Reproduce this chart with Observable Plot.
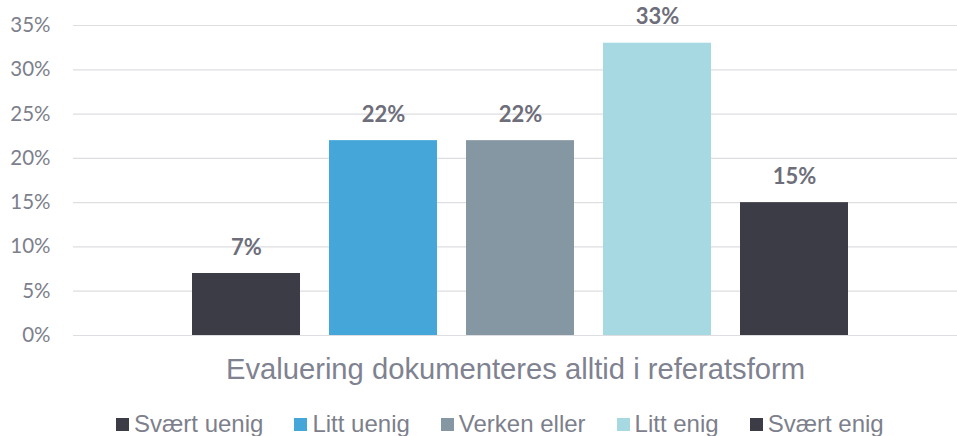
<!DOCTYPE html>
<html><head><meta charset="utf-8">
<script src="https://cdn.jsdelivr.net/npm/d3@7"></script>
<script src="https://cdn.jsdelivr.net/npm/@observablehq/plot@0.6"></script>
<style>
body{margin:0;background:#fff;}
#legend{display:flex;gap:31px;margin-left:116px;padding-top:17px;height:24px;font-family:"Liberation Sans",Arial,sans-serif;font-size:24px;line-height:24px;color:#7d7f8c;}
.item{display:flex;align-items:center;white-space:nowrap;}
.sw{width:13px;height:13px;margin-right:5px;display:inline-block;}
</style>
</head><body><div id="chart"></div><div id="legend"></div>
<script>
const categories = ["Svært uenig","Litt uenig","Verken eller","Litt enig","Svært enig"];
const values = [7,22,22,33,15];
const colors = ["#3c3c46","#44a6d9","#8597a2","#a6d9e2","#3c3c46"];
const yTicks = [0,5,10,15,20,25,30,35];
const groupLabel = "Evaluering dokumenteres alltid i referatsform";

const data = categories.map((c,i)=>({cat:c, value:values[i], color:colors[i]}));

const chart = Plot.plot({
  width: 957,
  height: 395,
  marginLeft: 73,
  marginRight: 0,
  marginTop: 25,
  marginBottom: 60,
  style: {fontFamily: "Lato, sans-serif", background: "#fff"},
  x: {domain: categories, range: [161, 879], padding: 0.21, axis: null},
  y: {domain: [0,35], axis: null},
  marks: [
    Plot.ruleY(yTicks, {stroke: "#dedee2", strokeWidth: 1.2}),
    Plot.barY(data, {x: "cat", y: "value", fill: "color"}),
    Plot.text(data, {x: "cat", y: "value", text: d => d.value + "%", lineAnchor: "bottom", dy: -19,
      fontSize: 22, fontWeight: "bold", fill: "#6d6e7a"}),
    Plot.axisY(yTicks, {label: null, tickSize: 0, tickPadding: 23, tickFormat: d => d + "%", fontSize: 20.5, fill: "#7d7f8c"}),
    Plot.text([groupLabel], {frameAnchor: "bottom", dy: 43, lineAnchor: "bottom", fontSize: 29.2,
      fontFamily: "Liberation Sans, Arial, sans-serif", fill: "#7f8290"})
  ]
});
document.getElementById("chart").appendChild(chart);

const legend = document.getElementById("legend");
categories.forEach((c,i) => {
  const it = document.createElement("div");
  it.className = "item";
  const sw = document.createElement("span");
  sw.className = "sw";
  sw.style.background = colors[i];
  it.appendChild(sw);
  it.appendChild(document.createTextNode(c));
  legend.appendChild(it);
});
</script>
</body></html>
